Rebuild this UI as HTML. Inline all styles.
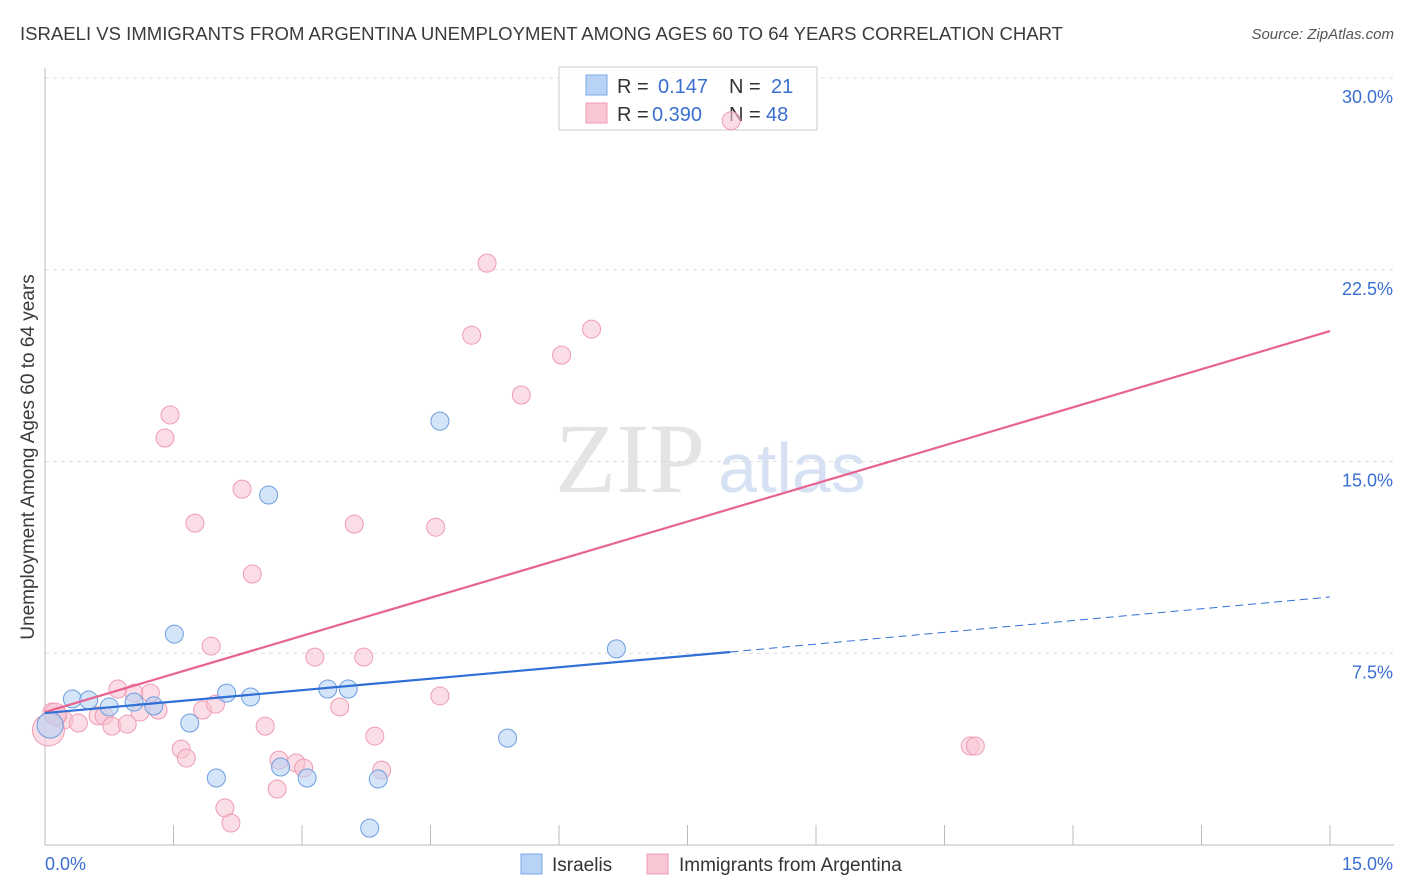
<!DOCTYPE html>
<html><head><meta charset="utf-8"><style>
body{margin:0;background:#fff;font-family:"Liberation Sans",sans-serif;}
svg{display:block}
</style></head><body>
<svg id="chart" width="1406" height="892">
<text x="20" y="40" font-size="18" fill="#3b3b3b" textLength="1043" lengthAdjust="spacingAndGlyphs">ISRAELI VS IMMIGRANTS FROM ARGENTINA UNEMPLOYMENT AMONG AGES 60 TO 64 YEARS CORRELATION CHART</text>
<text x="1394" y="39" font-size="15" fill="#555" font-style="italic" text-anchor="end">Source: ZipAtlas.com</text>
<text x="555" y="492" font-size="100" fill="#e4e4e4" font-family="Liberation Serif,serif">ZIP</text>
<text x="718" y="492" font-size="70" fill="#d6e2f3">atlas</text>
<text transform="translate(34,457) rotate(-90)" font-size="19" fill="#3b3b3b" text-anchor="middle">Unemployment Among Ages 60 to 64 years</text>
<g id="grid"></g><g id="axes"></g>
<g>
<rect x="559" y="67" width="258" height="63" fill="#fff" fill-opacity="0.85" stroke="#ccc"/>
<rect x="586" y="75" width="21" height="20" fill="#b8d3f5" stroke="#7aa7e6"/>
<rect x="586" y="103" width="21" height="20" fill="#f9c6d4" stroke="#ef9bb4"/>
<text x="617" y="93" font-size="20" fill="#333">R = </text><text x="658" y="93" font-size="20" fill="#3a6fd1">0.147</text>
<text x="729" y="93" font-size="20" fill="#333">N = </text><text x="771" y="93" font-size="20" fill="#3a6fd1">21</text>
<text x="617" y="121" font-size="20" fill="#333">R = </text><text x="652" y="121" font-size="20" fill="#3a6fd1">0.390</text>
<text x="729" y="121" font-size="20" fill="#333">N = </text><text x="766" y="121" font-size="20" fill="#3a6fd1">48</text>
</g>
<g id="pts"></g><g id="lines"></g>
<g>
<rect x="521" y="854" width="21" height="20" fill="#b8d3f5" stroke="#7aa7e6"/>
<text x="552" y="871" font-size="19" fill="#333">Israelis</text>
<rect x="647" y="854" width="21" height="20" fill="#f9c6d4" stroke="#ef9bb4"/>
<text x="679" y="871" font-size="19" fill="#333">Immigrants from Argentina</text>
</g>
</svg>
<script>
const yTicks=[7.5,15,22.5,30];
const yTickLabels=["7.5%","15.0%","22.5%","30.0%"];
const xTickLabels=["0.0%","15.0%"];
const israeliX=[0.32,0.51,0.75,1.04,1.27,1.51,1.69,2.00,2.12,2.40,2.61,2.75,3.06,3.30,3.54,3.79,3.89,4.61,5.40,6.67,0.06];
const israeliY=[5.71,5.67,5.40,5.59,5.44,8.25,4.77,2.62,5.94,5.79,13.69,3.05,2.62,6.10,6.10,0.66,2.58,16.58,4.18,7.67,4.69];
const argX=[0.08,0.15,0.22,0.39,0.62,0.69,0.78,0.85,0.96,1.04,1.11,1.23,1.32,1.40,1.46,1.59,1.65,1.75,1.84,1.94,1.99,2.10,2.17,2.30,2.42,2.57,2.73,2.71,2.93,3.02,3.15,3.44,3.61,3.72,3.85,3.93,4.56,4.61,4.98,5.16,5.56,6.03,6.38,8.01,10.80,10.86,0.04,0.12];
const argY=[5.20,5.05,4.89,4.77,5.05,5.05,4.65,6.10,4.73,5.94,5.20,5.94,5.28,15.92,16.82,3.75,3.40,12.59,5.28,7.78,5.51,1.45,0.86,13.92,10.60,4.65,3.32,2.19,3.21,3.01,7.35,5.40,12.55,7.35,4.26,2.93,12.43,5.83,19.94,22.76,17.60,19.16,20.18,28.33,3.87,3.87,4.50,5.12];
const blueLine=[5.16,7.55,9.7]; // at x=0, 8, 15
const pinkLine=[5.2,20.1]; // at x=0, 15
const X0=45,X1=1330,Y0=845,Ytop=78;
const xs=v=>X0+(X1-X0)*v/15, ys=v=>Y0-(Y0-Ytop)*v/30;
const NS="http://www.w3.org/2000/svg";
function mk(t,p,a){const e=document.createElementNS(NS,t);for(const k in a)e.setAttribute(k,a[k]);document.getElementById(p).appendChild(e);return e;}
yTicks.forEach((v,i)=>{
 const g=mk('line','grid',{x1:X0,x2:1394,y1:ys(v),y2:ys(v),stroke:'#ddd','stroke-dasharray':'4,4'});
 
 
 const t=mk('text','axes',{x:1393,y:ys(v)+25,'font-size':18,fill:'#3a6fd1','text-anchor':'end'});t.textContent=yTickLabels[i];
 
 
});
const ax=mk('line','axes',{x1:X0,x2:1394,y1:Y0,y2:Y0,stroke:'#bbb'});


const ay=mk('line','axes',{x1:X0,x2:X0,y1:68,y2:Y0,stroke:'#bbb'});


for(let i=1;i<=10;i++){const x=X0+i*(X1-X0)/10;const t=mk('line','axes',{x1:x,x2:x,y1:Y0,y2:Y0-20,stroke:'#bbb'});
 
 }
const xl0=mk('text','axes',{x:45,y:870,'font-size':18,fill:'#3a6fd1'});xl0.textContent=xTickLabels[0];


const xl1=mk('text','axes',{x:1393,y:870,'font-size':18,fill:'#3a6fd1','text-anchor':'end'});xl1.textContent=xTickLabels[1];


argX.forEach((v,i)=>{const r=i===46?16:(i===47?11:9);const c=mk('circle','pts',{cx:xs(v),cy:ys(argY[i]),r:r,fill:'#f9c6d4','fill-opacity':0.6,stroke:'#ef9bb4'});
 
 });
israeliX.forEach((v,i)=>{const r=i===20?13:9;const c=mk('circle','pts',{cx:xs(v),cy:ys(israeliY[i]),r:r,fill:'#b8d3f5','fill-opacity':0.6,stroke:'#6d9de0'});
 
 });
const pl=mk('line','lines',{x1:xs(0),y1:ys(pinkLine[0]),x2:xs(15),y2:ys(pinkLine[1]),stroke:'#e8638f','stroke-width':2.2});


const bl=mk('line','lines',{x1:xs(0),y1:ys(blueLine[0]),x2:xs(8),y2:ys(blueLine[1]),stroke:'#2f6fd6','stroke-width':2.2});


const bd=mk('line','lines',{x1:xs(8),y1:ys(blueLine[1]),x2:xs(15),y2:ys(blueLine[2]),stroke:'#2f6fd6','stroke-width':1,'stroke-dasharray':'8,5'});


</script>
</body></html>
